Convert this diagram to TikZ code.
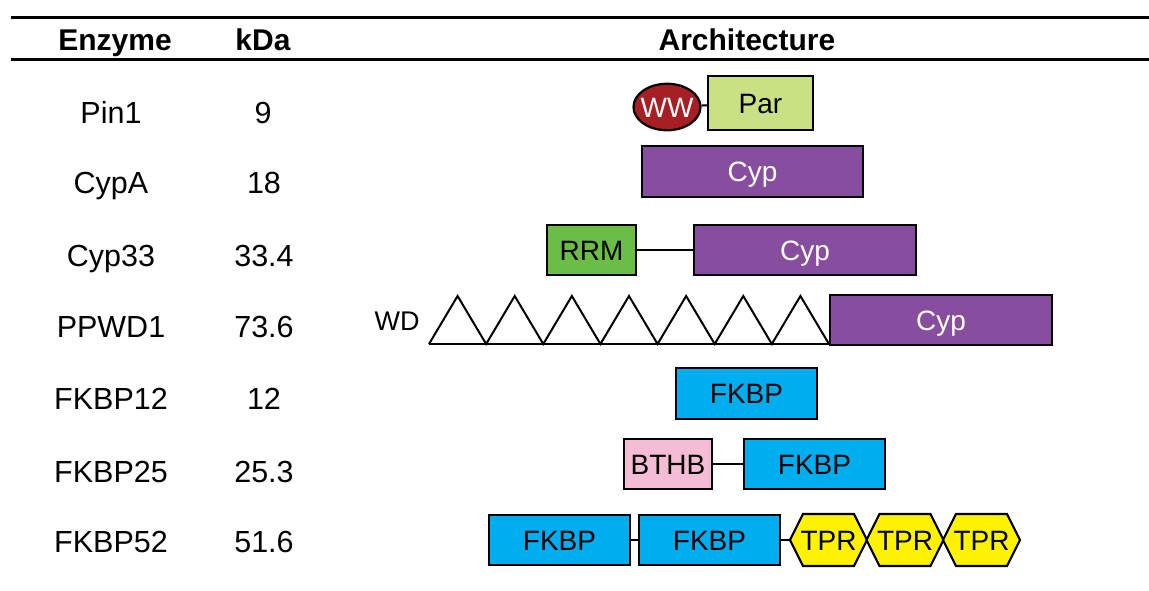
\documentclass[tikz,border=0pt]{standalone}
\usepackage{fontspec}
\setmainfont{Liberation Sans}
\usetikzlibrary{shapes.geometric}
\definecolor{wwred}{RGB}{167,31,36}
\definecolor{pargreen}{RGB}{201,224,133}
\definecolor{cyppurple}{RGB}{135,77,158}
\definecolor{rrmgreen}{RGB}{107,189,69}
\definecolor{fkbpblue}{RGB}{0,173,238}
\definecolor{bthbpink}{RGB}{245,189,213}
\definecolor{tpryellow}{RGB}{255,242,0}
\tikzset{
  hdr/.style={anchor=base, font=\fontsize{30}{36}\selectfont\bfseries},
  lbl/.style={anchor=base, font=\fontsize{30.5}{36}\selectfont},
  captext/.style={font=\fontsize{28}{33}\selectfont, text height=20pt, text depth=0pt},
  dom/.style={draw=black, line width=2.2pt, inner sep=0pt, captext},
  rule/.style={line width=3pt},
  link/.style={line width=2pt},
  tri/.style={line width=2pt, line join=miter},
}
\begin{document}
\begin{tikzpicture}[x=1pt,y=-1pt]
\useasboundingbox (0,0) rectangle (1149,590);
% rules
\coordinate (r1a) at (11,17); \coordinate (r1b) at (1149,17);
\coordinate (r2a) at (11,59); \coordinate (r2b) at (1149,59);
\draw[rule] (r1a) -- (r1b);
\draw[rule] (r2a) -- (r2b);
% headers
\node[hdr] (h1) at (115,50) {Enzyme};
\node[hdr] (h2) at (263,50) {kDa};
\node[hdr] (h3) at (747,50) {Architecture};
% names and masses
\node[lbl] (n1) at (111,123) {Pin1};     \node[lbl] (m1) at (263,123) {9};
\node[lbl] (n2) at (111,193) {CypA};     \node[lbl] (m2) at (264,193) {18};
\node[lbl] (n3) at (111,266) {Cyp33};    \node[lbl] (m3) at (264,266) {33.4};
\node[lbl] (n4) at (111,337) {PPWD1};    \node[lbl] (m4) at (264,337) {73.6};
\node[lbl] (n5) at (111,409) {FKBP12};   \node[lbl] (m5) at (264,409) {12};
\node[lbl] (n6) at (111,482) {FKBP25};   \node[lbl] (m6) at (264,482) {25.3};
\node[lbl] (n7) at (111,552) {FKBP52};   \node[lbl] (m7) at (264,552) {51.6};
% Pin1
\node[dom, ellipse, fill=wwred, minimum width=67pt, minimum height=46.5pt] (ww) at (667,107) {};
\node[captext, text=white, inner sep=0pt] (wwt) at (667,107) {WW};
\node[dom, fill=pargreen, minimum width=104.8pt, minimum height=53.8pt] (par) at (760.5,103) {Par};
\draw[link] (ww) -- (par);
% CypA
\node[dom, fill=cyppurple, text=white, minimum width=220.8pt, minimum height=50.8pt] (cypa) at (752.5,171.5) {Cyp};
% Cyp33
\node[dom, fill=rrmgreen, minimum width=88.8pt, minimum height=49.8pt] (rrm) at (591.5,250) {RRM};
\node[dom, fill=cyppurple, text=white, minimum width=221.8pt, minimum height=49.8pt] (cyp33) at (805,250) {Cyp};
\draw[link] (rrm) -- (cyp33);
% PPWD1
\node[font=\fontsize{27}{32}\selectfont, text height=19.3pt, text depth=0pt] (wd) at (397,321) {WD};
\coordinate (wdA) at (429,344);
\coordinate (wdB) at (829,344);
\draw[tri] (wdA) -- (wdB);
\draw[tri] (wdA)
  \foreach \k in {0,...,6} { -- ++(28.57,-48) -- ++(28.57,48) };
\node[dom, fill=cyppurple, text=white, minimum width=221.8pt, minimum height=49.8pt] (cyppw) at (941,320) {Cyp};
% FKBP12
\node[dom, fill=fkbpblue, minimum width=140.8pt, minimum height=50.8pt] (fk12) at (746.5,393.5) {FKBP};
% FKBP25
\node[dom, fill=bthbpink, minimum width=87.8pt, minimum height=49.8pt] (bthb) at (668,464) {BTHB};
\node[dom, fill=fkbpblue, minimum width=140.8pt, minimum height=49.8pt] (fk25) at (814.5,464) {FKBP};
\draw[link] (bthb) -- (fk25);
% FKBP52
\node[dom, fill=fkbpblue, minimum width=140.8pt, minimum height=49.8pt] (fka) at (559.5,540) {FKBP};
\node[dom, fill=fkbpblue, minimum width=140.8pt, minimum height=49.8pt] (fkb) at (709.5,540) {FKBP};
\foreach \i/\x in {1/790,2/866.5,3/943} {
  \coordinate (tprL\i) at (\x,540);
  \draw[line width=2.2pt, line join=miter, fill=tpryellow] (tprL\i) -- ++(13,-26) -- ++(51,0) -- ++(13,26) -- ++(-13,26) -- ++(-51,0) -- cycle;
  \node[captext, inner sep=0pt] (tpr\i) at (\x+38.5,540) {TPR};
}
\draw[link] (fka) -- (fkb);
\draw[link] (fkb.east) -- (tprL1);
\end{tikzpicture}
\end{document}
